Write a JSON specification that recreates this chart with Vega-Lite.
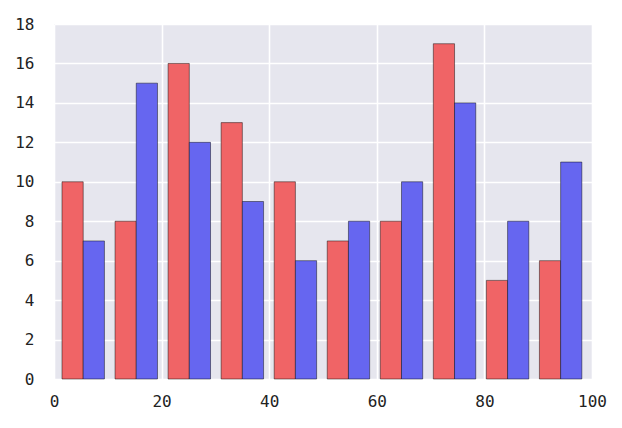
{
  "$schema": "https://vega.github.io/schema/vega-lite/v6.json",
  "width": 538,
  "height": 355,
  "autosize": {"type": "none"},
  "padding": {"left": 54, "top": 24, "right": 30, "bottom": 49},
  "background": "#FFFFFF",
  "config": {
    "view": {"fill": "#E6E6EE", "stroke": null},
    "axis": {
      "labelFont": "DejaVu Sans Mono",
      "labelFontSize": 16,
      "labelColor": "#222222",
      "domain": false,
      "ticks": false,
      "gridColor": "#FFFFFF",
      "gridWidth": 1.6,
      "title": null
    }
  },
  "data": {
    "values": [
      {"bin_start": 0.5, "bin_end": 10.36, "series": "A", "count": 10},
      {"bin_start": 10.36, "bin_end": 20.22, "series": "A", "count": 8},
      {"bin_start": 20.22, "bin_end": 30.08, "series": "A", "count": 16},
      {"bin_start": 30.08, "bin_end": 39.94, "series": "A", "count": 13},
      {"bin_start": 39.94, "bin_end": 49.8, "series": "A", "count": 10},
      {"bin_start": 49.8, "bin_end": 59.66, "series": "A", "count": 7},
      {"bin_start": 59.66, "bin_end": 69.52, "series": "A", "count": 8},
      {"bin_start": 69.52, "bin_end": 79.38, "series": "A", "count": 17},
      {"bin_start": 79.38, "bin_end": 89.24, "series": "A", "count": 5},
      {"bin_start": 89.24, "bin_end": 99.1, "series": "A", "count": 6},
      {"bin_start": 0.5, "bin_end": 10.36, "series": "B", "count": 7},
      {"bin_start": 10.36, "bin_end": 20.22, "series": "B", "count": 15},
      {"bin_start": 20.22, "bin_end": 30.08, "series": "B", "count": 12},
      {"bin_start": 30.08, "bin_end": 39.94, "series": "B", "count": 9},
      {"bin_start": 39.94, "bin_end": 49.8, "series": "B", "count": 6},
      {"bin_start": 49.8, "bin_end": 59.66, "series": "B", "count": 8},
      {"bin_start": 59.66, "bin_end": 69.52, "series": "B", "count": 10},
      {"bin_start": 69.52, "bin_end": 79.38, "series": "B", "count": 14},
      {"bin_start": 79.38, "bin_end": 89.24, "series": "B", "count": 8},
      {"bin_start": 89.24, "bin_end": 99.1, "series": "B", "count": 11}
    ]
  },
  "transform": [
    {"calculate": "datum.bin_end - datum.bin_start", "as": "w"},
    {"calculate": "datum.series === 'A' ? datum.bin_start + 0.1 * datum.w : datum.bin_start + 0.5 * datum.w", "as": "x0"},
    {"calculate": "datum.x0 + 0.4 * datum.w", "as": "x1"}
  ],
  "mark": {"type": "rect", "stroke": "#000000", "strokeOpacity": 0.45, "strokeWidth": 1},
  "encoding": {
    "x": {
      "field": "x0", "type": "quantitative",
      "scale": {"domain": [0, 100], "nice": false, "zero": false},
      "axis": {"values": [0, 20, 40, 60, 80, 100], "labelPadding": 14, "labelFlush": false}
    },
    "x2": {"field": "x1"},
    "y": {
      "field": "count", "type": "quantitative",
      "scale": {"domain": [0, 18], "nice": false},
      "axis": {"values": [0, 2, 4, 6, 8, 10, 12, 14, 16, 18], "labelPadding": 20}
    },
    "y2": {"datum": 0},
    "color": {
      "field": "series", "type": "nominal",
      "scale": {"domain": ["A", "B"], "range": ["#F06466", "#6666F0"]},
      "legend": null
    }
  }
}
